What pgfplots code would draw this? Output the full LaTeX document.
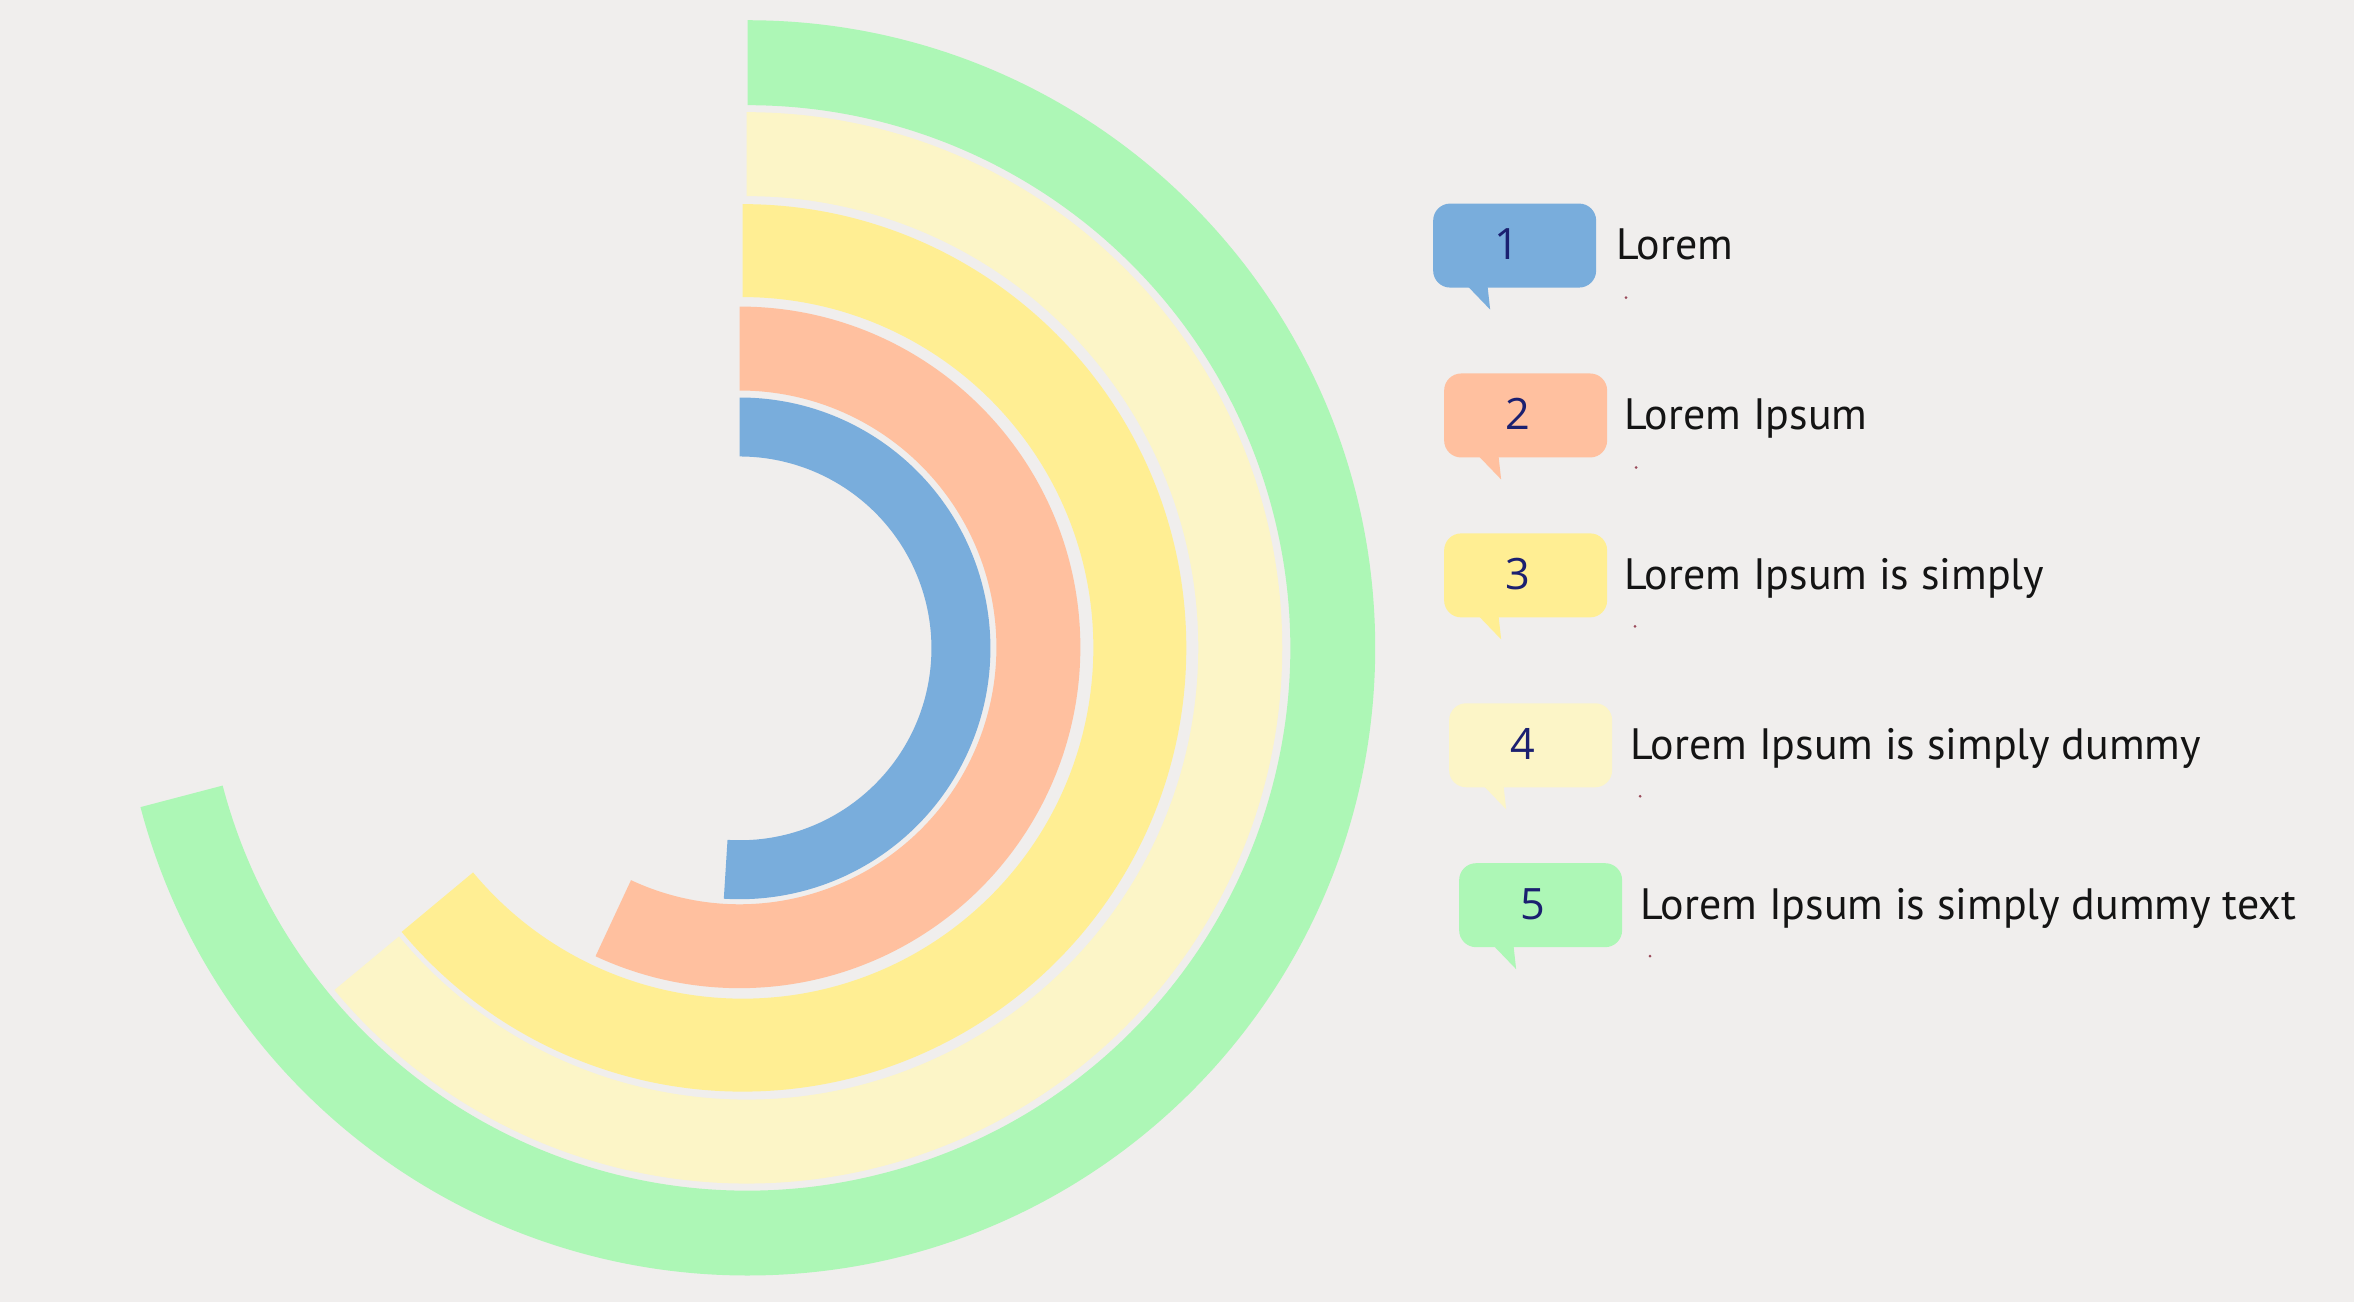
\documentclass[border=0pt]{standalone}
\usepackage{pgfplots}
\pgfplotsset{compat=1.18}
\usepackage{fontspec}
\setmainfont{PT Sans}
\newfontfamily\numfont{Open Sans}
\definecolor{bgc}{HTML}{F0EEED}
\definecolor{c1}{HTML}{79ADDC}
\definecolor{c2}{HTML}{FFC09F}
\definecolor{c3}{HTML}{FFEE93}
\definecolor{c4}{HTML}{FCF5C7}
\definecolor{c5}{HTML}{ADF7B6}
\definecolor{numc}{HTML}{1B2070}
\definecolor{dotc}{HTML}{9A4A5A}
% radial bar: #1 cx, #2 cy, #3 inner radius, #4 outer radius, #5 start angle, #6 end angle, #7 colour
\newcommand{\ring}[7]{%
  \fill[#7] (axis cs:#1,#2) ++({#5}:{#4*0.01cm})
    arc[start angle=#5, end angle=#6, radius={#4*0.01cm}]
    -- ++({#6+180}:{(#4-#3)*0.01cm})
    arc[start angle=#6, end angle=#5, radius={#3*0.01cm}] -- cycle;}
% callout: #1 left, #2 top, #3 bottom, #4 colour, #5 number x, #6 number, #7 text x, #8 baseline, #9 text
\newcommand{\callout}[9]{%
  \fill[#4] (axis cs:#1,#3) ++(0.31cm,0.05cm) -- ++(0.23cm,0) -- ++(0.03cm,-0.27cm) -- cycle;
  \fill[#4, rounded corners=0.17cm] (axis cs:#1,#3) rectangle ++(1.63cm,0.84cm);
  \node[anchor=base, inner sep=0pt, text=numc, font=\numfont\fontsize{12.3pt}{14pt}\selectfont] at (axis cs:#5,#8) {#6};
  \node[anchor=base west, inner sep=0pt, text=black!92] at (axis cs:#7,#8) {#9};}
\begin{document}
\begin{tikzpicture}
\fill[bgc] (0,0) rectangle (23.54,13.02);
\begin{axis}[at={(0,0)}, anchor=south west, x=0.01cm, y=0.01cm,
  xmin=0, xmax=2354, ymin=0, ymax=1302, hide axis, clip=false,
  font=\fontsize{12.5pt}{15pt}\selectfont]
% rings: centre x, centre y, inner r, outer r, start, end
\ring{748}{654.5}{543}{628}{90}{-165.3}{c5}
\ring{747}{654.5}{452}{536}{90}{-140.3}{c4}
\ring{743}{654.5}{351}{444}{90}{-140.2}{c3}
\ring{740}{655}{257}{341}{90}{-115.0}{c2}
\ring{740}{654}{192}{251}{90}{-93.6}{c1}
% callouts
\callout{1434}{1099}{1015}{c1}{1508}{1}{1617}{1043}{Lorem}
\callout{1445}{929}{845}{c2}{1519}{2}{1625}{873}{Lorem Ipsum}
\callout{1445}{769}{685}{c3}{1519}{3}{1625}{713}{Lorem Ipsum is simply}
\callout{1450}{599}{515}{c4}{1524}{4}{1631}{543}{Lorem Ipsum is simply dummy}
\callout{1460}{440}{355}{c5}{1534}{5}{1641}{383}{Lorem Ipsum is simply dummy text}
% small marks under labels
\fill[dotc] (axis cs:1627,1005) circle[radius=0.015cm];
\fill[dotc] (axis cs:1637,835) circle[radius=0.015cm];
\fill[dotc] (axis cs:1636,676) circle[radius=0.015cm];
\fill[dotc] (axis cs:1641,506) circle[radius=0.015cm];
\fill[dotc] (axis cs:1651,346) circle[radius=0.015cm];
\end{axis}
\end{tikzpicture}
\end{document}
